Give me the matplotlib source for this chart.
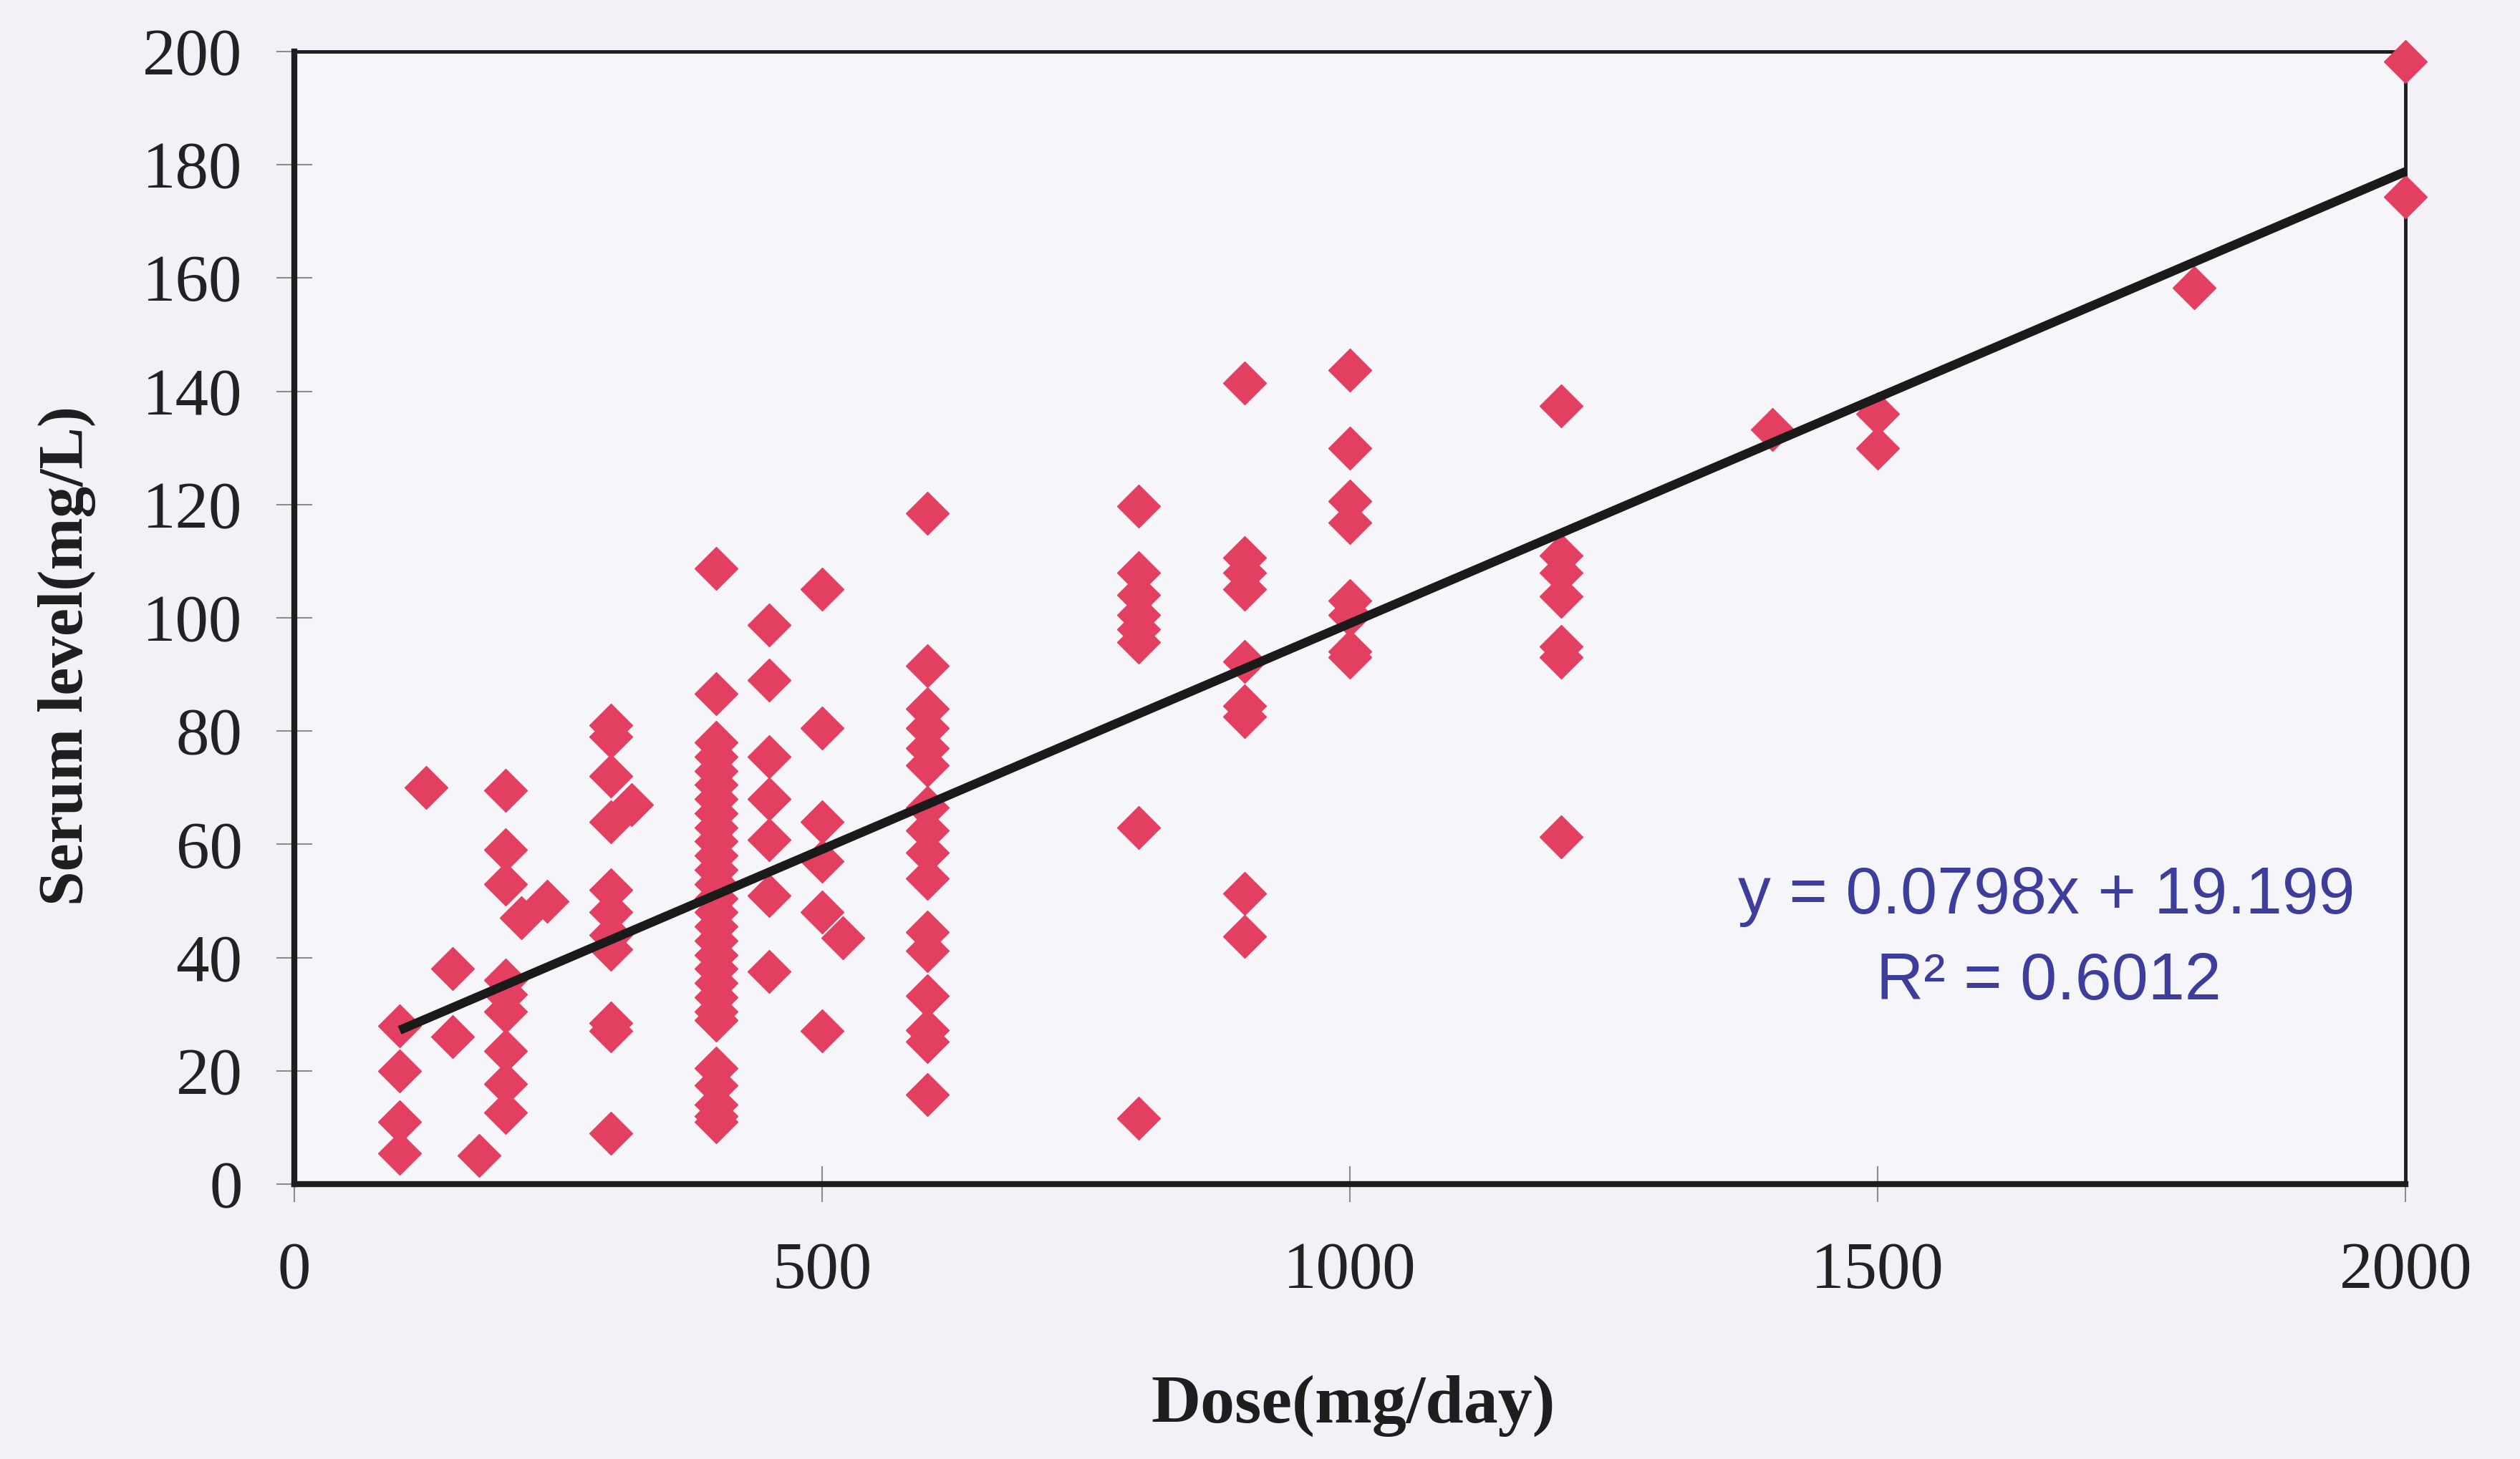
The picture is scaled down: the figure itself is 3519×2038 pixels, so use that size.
import matplotlib
matplotlib.use("Agg")
import matplotlib.pyplot as plt

# Daily dose (mg/day) and measured serum level (mg/L) for each patient
dose = (
    [100] * 4 + [125] + [150] * 2 + [175]
    + [200] * 9 + [215] + [240]
    + [300] * 11 + [320]
    + [400] * 28
    + [450] * 7
    + [500] * 6 + [520]
    + [600] * 16
    + [800] * 8
    + [900] * 9
    + [1000] * 8
    + [1200] * 7
    + [1400] + [1500] * 2 + [1800] + [2000] * 2
)
serum = (
    [28, 20, 11, 5.5] + [70] + [38, 26] + [5]
    + [69.5, 59, 53, 36, 33.5, 30.5, 23.5, 17.7, 12.7] + [47] + [50]
    + [81, 79, 72, 64, 52, 48, 44, 41.5, 28.5, 27, 9] + [67]
    + [108.7, 86.6, 78, 75.5, 73, 70.5, 68, 65.5, 63, 60.5, 58, 55.5, 53,
       50.5, 48, 45.5, 43, 40.5, 38, 35.5, 33, 30.5, 29, 20.5, 17.5, 14,
       12, 11]
    + [98.7, 89, 75.5, 68, 60.8, 51, 37.5]
    + [105, 80.5, 64, 57, 48, 27] + [43.5]
    + [118.5, 91.5, 84, 80.5, 77, 74, 66.5, 62.5, 58.5, 54, 44.5, 41.2,
       33.3, 27.2, 25.2, 15.8]
    + [119.7, 108, 104, 100.5, 98, 95.7, 63, 11.6]
    + [141.4, 110.6, 108, 105.1, 92.3, 84.5, 82.5, 51.3, 43.7]
    + [143.7, 130, 120.6, 116.8, 103, 100.5, 94, 93]
    + [137.4, 111, 108, 103.8, 95, 93, 61.3]
    + [133.3] + [136, 130] + [158.3] + [198.2, 174.3]
)

# Linear trend line reported on the chart
slope = 0.0798
intercept = 19.199
r_squared = 0.6012

x_ticks = [0, 500, 1000, 1500, 2000]
y_ticks = [0, 20, 40, 60, 80, 100, 120, 140, 160, 180, 200]

serif = ["Liberation Serif", "DejaVu Serif"]
sans = ["Liberation Sans", "DejaVu Sans"]

fig = plt.figure(figsize=(35.19, 20.38), dpi=100)
fig.patch.set_facecolor("#f3f1f7")
ax = fig.add_axes([0.1167, 0.1884, 0.8379, 0.7763])
ax.set_facecolor("#f6f5f9")

ax.plot(dose, serum, linestyle="none", marker="D", markersize=31,
        markerfacecolor="#e33f60", markeredgecolor="#e33f60",
        markeredgewidth=1.0, clip_on=False, zorder=3)

x_fit = [min(dose), max(dose)]
y_fit = [slope * v + intercept for v in x_fit]
ax.plot(x_fit, y_fit, color="#1a1a1a", linewidth=9, solid_capstyle="butt",
        clip_on=False, zorder=4)

ax.set_xlim(0, 2000)
ax.set_ylim(0, 200)
ax.set_xticks(x_ticks)
ax.set_yticks(y_ticks)
ax.set_xticklabels([str(v) for v in x_ticks], family=serif, fontsize=67,
                   color="#222222")
ax.set_yticklabels([str(v) for v in y_ticks], family=serif, fontsize=67,
                   color="#222222")
ax.tick_params(axis="both", direction="inout", length=36, width=1.5,
               color="#8c8c8c")
ax.tick_params(axis="y", pad=34)
ax.tick_params(axis="x", pad=40)

for side in ("left", "bottom"):
    ax.spines[side].set_linewidth(6)
    ax.spines[side].set_color("#1e1e1e")
for side in ("top", "right"):
    ax.spines[side].set_linewidth(3.5)
    ax.spines[side].set_color("#1e1e1e")

fig.text(0.537, 0.0366, "Dose(mg/day)", family=serif, fontsize=69,
         fontweight="bold", color="#1e1e1e", ha="center", va="center")
fig.text(0.0267, 0.5505, "Serum level(mg/L)", family=serif, fontsize=63,
         fontweight="bold", color="#1e1e1e", ha="center", va="center",
         rotation=90)

ax.text(0.812, 0.3857, f"y = {slope}x + {intercept}", transform=fig.transFigure,
        family=sans, fontsize=66, color="#3d3d9c", ha="center", va="center")
ax.text(0.813, 0.327, f"R\u00b2 = {r_squared}", transform=fig.transFigure,
        family=sans, fontsize=66, color="#3d3d9c", ha="center", va="center")

fig.savefig("out.png", dpi=100, facecolor=fig.get_facecolor())
